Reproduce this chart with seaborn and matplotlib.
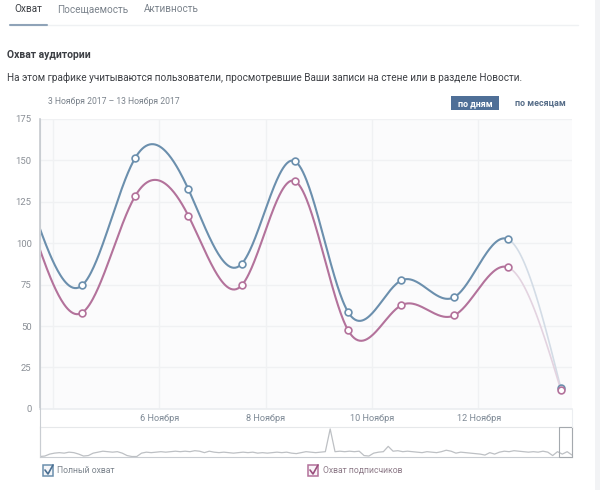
import matplotlib
matplotlib.use("Agg")
import matplotlib.pyplot as plt
from matplotlib.patches import Rectangle
import seaborn as sns
import numpy as np
import pandas as pd

W, H = 600, 490

days = [3.55, 4.55, 5.55, 6.55, 7.55, 8.55, 9.55, 10.55, 11.55, 12.55, 13.55]
total_reach = [128, 74.5, 151.5, 132.5, 87.5, 149.5, 58.5, 77.5, 67.5, 102.5, 12.5]
sub_reach = [116, 58, 128.5, 116.5, 74.5, 137.5, 47.5, 62.5, 56.5, 85.5, 11.5]
y_ticks = [0, 25, 50, 75, 100, 125, 150, 175]
x_ticks = [4, 6, 8, 10, 12]
x_labels = ["", "6 Ноября", "8 Ноября", "10 Ноября", "12 Ноября"]

# overview strip at the bottom, read by eye
nav_values = [1, 2, 6, 8, 9, 8, 10, 9, 6, 2,
              3, 8, 10, 12, 11, 10, 11, 8, 3, 1,
              1, 8, 10, 9, 10, 11, 10, 11, 12, 11,
              12, 11, 13, 12, 9, 12, 10, 9, 10, 9,
              8, 9, 10, 9, 10, 8, 9, 8, 9, 10,
              9, 10, 8, 7, 9, 11, 10, 9, 10, 11,
              58, 11, 12, 11, 12, 11, 12, 3, 2, 8,
              10, 11, 22, 12, 13, 11, 12, 11, 10, 9,
              11, 10, 9, 11, 14, 12, 8, 10, 9, 8,
              7, 6, 4, 9, 6, 10, 12, 11, 13, 12,
              11, 10, 11, 10, 12, 10, 3, 11, 6, 11, 4]

BLUE = "#6b8fad"
PINK = "#b3729b"
BLUE_SOFT = "#d3dce6"
PINK_SOFT = "#e3d3e0"
GRID = "#f0f1f3"
TEXT = "#7b838c"
DARK = "#3c3f44"


def spline(x, y, n=60):
    # natural cubic spline, same look as the smooth lines of the widget
    x = np.array(x, dtype=float)
    y = np.array(y, dtype=float)
    h = np.diff(x)
    A = np.zeros((len(x), len(x)))
    b = np.zeros(len(x))
    A[0, 0] = A[-1, -1] = 1
    for i in range(1, len(x) - 1):
        A[i, i - 1] = h[i - 1]
        A[i, i] = 2 * (h[i - 1] + h[i])
        A[i, i + 1] = h[i]
        b[i] = 6 * ((y[i + 1] - y[i]) / h[i] - (y[i] - y[i - 1]) / h[i - 1])
    m = np.linalg.solve(A, b)
    xs, ys = [], []
    for i in range(len(x) - 1):
        t = np.linspace(x[i], x[i + 1], n)
        a0 = x[i + 1] - t
        a1 = t - x[i]
        ys.append(m[i] * a0**3 / (6 * h[i]) + m[i + 1] * a1**3 / (6 * h[i])
                  + (y[i] / h[i] - m[i] * h[i] / 6) * a0
                  + (y[i + 1] / h[i] - m[i + 1] * h[i] / 6) * a1)
        xs.append(t)
    return np.array(xs), np.array(ys)


def box(left, top, right, bottom):
    return [left / W, 1 - bottom / H, (right - left) / W, (bottom - top) / H]


def label(x, y, s, **kw):
    kw.setdefault("color", TEXT)
    kw.setdefault("fontsize", 6.6)
    fig.text(x / W, 1 - y / H, s, va="center", **kw)


sns.set_theme(style="white")
plt.rcParams["font.family"] = ["Roboto", "DejaVu Sans"]

fig = plt.figure(figsize=(W / 100, H / 100), dpi=100, facecolor="white")

# main chart
ax = fig.add_axes(box(40, 119, 572, 408.8))
ax.set_facecolor("#fbfbfc")
ax.set_xlim(3.76, 13.76)
ax.set_ylim(0, 175)
ax.set_xticks(x_ticks)
ax.set_xticklabels([])
ax.set_yticks(y_ticks)
ax.tick_params(axis="y", length=0, labelsize=6.8, labelcolor="#8a8f96", pad=6)
ax.tick_params(axis="x", length=0)
ax.grid(True, color=GRID, lw=1)
ax.set_axisbelow(True)
sns.despine(ax=ax, top=True, right=True, bottom=False)
ax.spines["left"].set_color("#c9cdd2")
ax.spines["bottom"].set_color("#eceef1")

for values, strong, soft in [(total_reach, BLUE, BLUE_SOFT), (sub_reach, PINK, PINK_SOFT)]:
    xs, ys = spline(days, values)
    df = pd.DataFrame({"x": xs[:-1].ravel(), "y": ys[:-1].ravel()})
    sns.lineplot(data=df, x="x", y="y", color=strong, lw=1.5, ax=ax, sort=False, errorbar=None)
    sns.lineplot(x=xs[-1], y=ys[-1], color=soft, lw=1.2, ax=ax, sort=False, errorbar=None)
    sns.scatterplot(x=days[1:], y=values[1:], s=24, color="white", edgecolor=strong,
                    linewidth=1.2, ax=ax, zorder=5, clip_on=False)
ax.set_xlabel("")
ax.set_ylabel("")

# date labels between chart and overview
for tick, name in zip(x_ticks, x_labels):
    if name:
        px = 82 + (tick - 4.55) * 53.25
        label(px, 418, name, ha="center", color="#7f8a96")

# overview
nav = fig.add_axes(box(40, 427, 572, 457))
nav.set_facecolor("white")
nav_x = np.arange(len(nav_values))
sns.lineplot(x=nav_x, y=nav_values, color="#bdc0c4", lw=0.9, ax=nav, errorbar=None)
nav.set_xlim(0, len(nav_values) - 1)
nav.set_ylim(0, 62)
nav.set_xticks([])
nav.set_yticks([])
nav.set_xlabel("")
nav.set_ylabel("")
for side in nav.spines:
    nav.spines[side].set_color("#e6e8ea")
    nav.spines[side].set_linewidth(0.8)
nav.spines["left"].set_color("#c9cdd2")
nav.spines["bottom"].set_color("#c9cdd2")

# everything around the chart, in pixels
over = fig.add_axes([0, 0, 1, 1], facecolor="none")
over.set_xlim(0, W)
over.set_ylim(H, 0)
over.axis("off")
over.add_patch(Rectangle((595, 0), 5, H, fc="#f2f3f5", ec="none"))
over.plot([40, 40], [119, 457], color="#c9cdd2", lw=0.8)
over.plot([572, 572], [409, 427], color="#eceef1", lw=0.8)
over.plot([10, 578], [25, 25], color="#eff1f3", lw=1)
over.plot([10, 47], [25, 25], color="#8fa3b8", lw=1.5)
over.add_patch(Rectangle((559, 427), 13, 30, fc="none", ec="#a4a9ae", lw=0.8))
over.add_patch(Rectangle((451, 96), 48, 14, fc="#4f6f97", ec="none"))
over.add_patch(Rectangle((43, 465), 10, 11, fc="#f4f6f9", ec=BLUE, lw=1.1))
over.plot([45, 48, 53], [470, 474, 465], color="#4a6f92", lw=1.2)
over.add_patch(Rectangle((308, 465), 10, 11, fc="#f9f4f8", ec=PINK, lw=1.1))
over.plot([310, 313, 318], [470, 474, 465], color="#9a4f7d", lw=1.2)

label(14, 9.5, "Охват", color=DARK, fontsize=7.2)
label(57, 9.5, "Посещаемость", fontsize=7.2)
label(144, 9.5, "Активность", fontsize=7.2)
label(7, 55, "Охват аудитории", color=DARK, fontsize=7.5, fontweight="bold")
label(7, 78, "На этом графике учитываются пользователи, просмотревшие Ваши записи на стене или в разделе Новости.",
      color=DARK, fontsize=7.2)
label(48, 101, "3 Ноября 2017 – 13 Ноября 2017", fontsize=6.2)
label(475, 103.5, "по дням", color="white", fontsize=6.4, fontweight="bold", ha="center")
label(540, 103.5, "по месяцам", color="#566d88", fontsize=6.4, fontweight="bold", ha="center")
label(57, 470, "Полный охват", fontsize=6.2)
label(323, 470, "Охват подписчиков", color="#8d7a88", fontsize=6.2)

fig.savefig("out.png", dpi=100)
